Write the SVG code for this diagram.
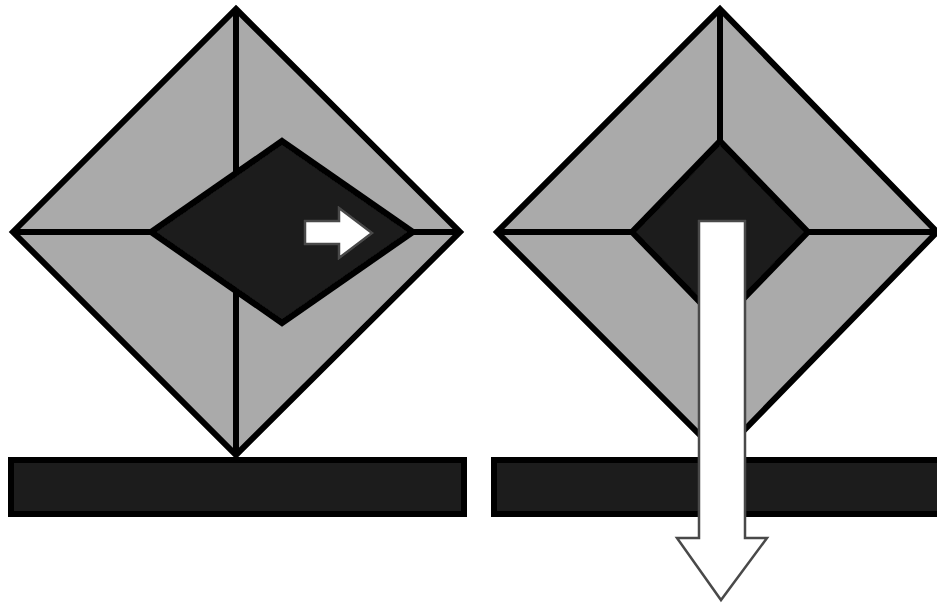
<svg xmlns="http://www.w3.org/2000/svg" width="937" height="603" viewBox="0 0 937 603">
<style>
.s{fill:#aaa;stroke:#000;stroke-width:6;stroke-linejoin:miter}
.d{fill:#1a1a1a;stroke:#000;stroke-width:6;stroke-linejoin:miter}
.l{fill:none;stroke:#000;stroke-width:6}
.a{fill:#fff;stroke:#4a4a4a;stroke-width:2.5;stroke-linejoin:miter}
</style>
<defs><filter id="soft" x="0" y="0" width="100%" height="100%" filterUnits="userSpaceOnUse"><feGaussianBlur stdDeviation="0.7"/></filter></defs>
<rect width="937" height="603" fill="#fff"/>
<g filter="url(#soft)">
<g id="left-diamond">
<polygon class="s" points="236,9 460,232 236,455 13,232"/>
<path class="l" d="M236,9V455M13,232H460"/>
<polygon class="d" points="282,141 413,232 282,323 151,232"/>
</g>
<g id="left-bar"><rect class="d" x="11" y="460" width="453" height="54"/></g>
<g id="left-arrow"><polygon class="a" points="305,221 339,221 339,208 372,233 339,258 339,244 305,244"/></g>
<g id="right-diamond">
<polygon class="s" points="720,9 937,232 720,455 497,232"/>
<path class="l" d="M720,9V143M497,232H632M808,232H937"/>
<polygon class="d" points="720,141 808,232 720,323 632,232"/>
</g>
<g id="right-bar"><rect class="d" x="494" y="460" width="446" height="54"/></g>
<g id="right-arrow"><polygon class="a" points="699,221 745,221 745,538 767,538 721,600 677,538 699,538"/></g>
</g>
</svg>
